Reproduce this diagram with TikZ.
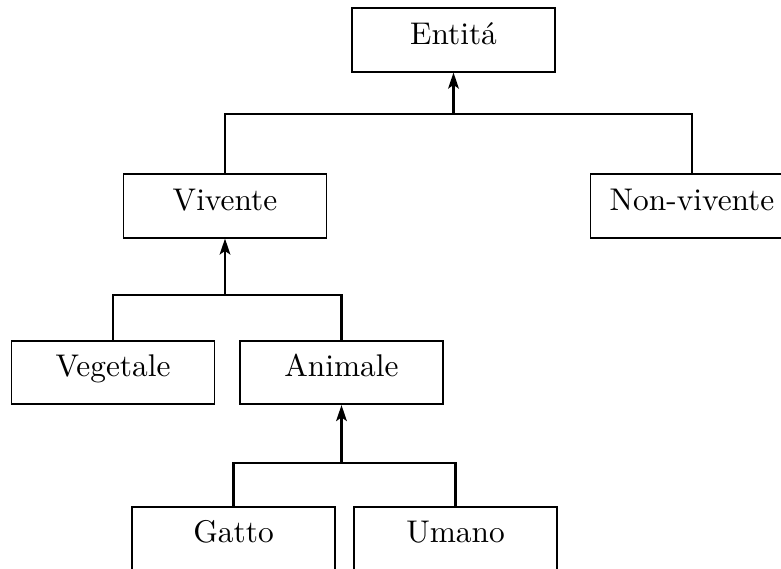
\documentclass[tikz,border=0pt]{standalone}
\usetikzlibrary{arrows.meta}
\begin{document}
\begin{tikzpicture}[x=0.338pt,y=-0.338pt,
  box/.style={draw,line width=0.6pt,minimum width=68.6pt,minimum height=21.4pt,inner sep=0pt,
    text height=7pt,text depth=4pt,font=\fontsize{10.6}{13}\selectfont},
  link/.style={line width=0.8pt},
  up/.style={link,-{Stealth[length=5.4pt,width=3.6pt,inset=1.2pt]}}]
  \clip (0,0) rectangle (781,569);
  % class boxes
  \node[box] (ent) at (453.5,40) {Entitá};
  \node[box] (viv) at (225,206) {Vivente};
  \node[box] (nv)  at (692,206) {Non-vivente};
  \node[box] (veg) at (113,372.5) {Vegetale};
  \node[box] (ani) at (341.5,372.5) {Animale};
  \node[box] (gat) at (233.5,538.5) {Gatto};
  \node[box] (uma) at (455.5,538.5) {Umano};
  % junction points of the hierarchy bars
  \coordinate (j1) at (453.5,114);
  \coordinate (j2) at (225,295);
  \coordinate (j3) at (341.5,463);
  % Entitá
  \draw[link] (viv.north) |- (j1) -| (nv.north);
  \draw[up] (j1) -- (ent.south);
  % Vivente
  \draw[link] (veg.north) |- (j2) -| (ani.north);
  \draw[up] (j2) -- (viv.south);
  % Animale
  \draw[link] (gat.north) |- (j3) -| (uma.north);
  \draw[up] (j3) -- (ani.south);
\end{tikzpicture}
\end{document}
